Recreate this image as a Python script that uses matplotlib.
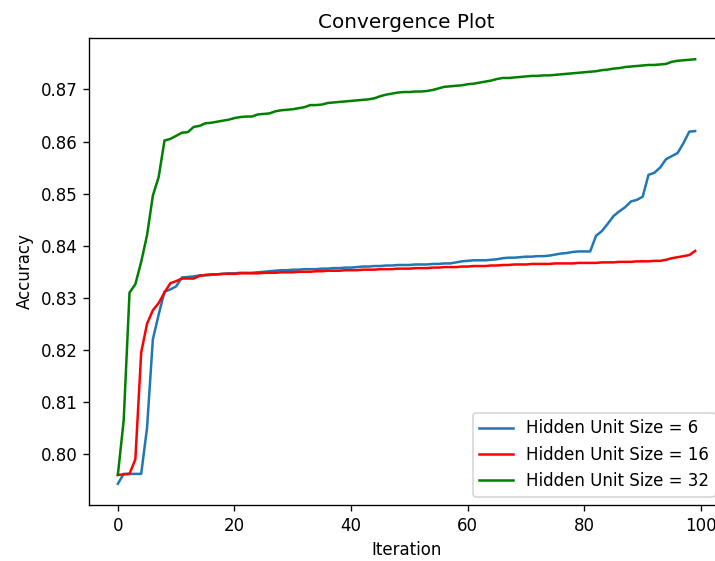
import matplotlib
matplotlib.use('Agg')
import matplotlib.pyplot as plt
import numpy as np

# accuracy per iteration
acc_6 = [0.7943, 0.7962, 0.7962, 0.7962, 0.7962, 0.8050, 0.8220, 0.8268, 0.8312, 0.8316,
         0.8322, 0.8339, 0.8340, 0.8341, 0.8343, 0.8343, 0.8344, 0.8345, 0.8346, 0.8347,
         0.8347, 0.8348, 0.8348, 0.8348, 0.8349, 0.8350, 0.8351, 0.8352, 0.8353, 0.8353,
         0.8354, 0.8354, 0.8355, 0.8355, 0.8355, 0.8356, 0.8356, 0.8357, 0.8357, 0.8358,
         0.8358, 0.8359, 0.8360, 0.8360, 0.8361, 0.8361, 0.8362, 0.8362, 0.8363, 0.8363,
         0.8363, 0.8364, 0.8364, 0.8364, 0.8365, 0.8365, 0.8366, 0.8366, 0.8368, 0.8370,
         0.8371, 0.8372, 0.8372, 0.8372, 0.8373, 0.8374, 0.8376, 0.8377, 0.8377, 0.8378,
         0.8379, 0.8379, 0.8380, 0.8380, 0.8381, 0.8383, 0.8385, 0.8386, 0.8388, 0.8389,
         0.8389, 0.8389, 0.8419, 0.8428, 0.8442, 0.8457, 0.8466, 0.8474, 0.8485, 0.8488,
         0.8494, 0.8536, 0.8540, 0.8550, 0.8566, 0.8572, 0.8578, 0.8597, 0.8619, 0.8620]

acc_16 = [0.7960, 0.7961, 0.7962, 0.7990, 0.8195, 0.8250, 0.8276, 0.8290, 0.8310, 0.8328,
          0.8332, 0.8337, 0.8337, 0.8337, 0.8342, 0.8344, 0.8345, 0.8345, 0.8346, 0.8346,
          0.8346, 0.8347, 0.8347, 0.8347, 0.8347, 0.8348, 0.8348, 0.8348, 0.8349, 0.8349,
          0.8349, 0.8350, 0.8350, 0.8350, 0.8351, 0.8351, 0.8352, 0.8352, 0.8352, 0.8353,
          0.8353, 0.8353, 0.8354, 0.8354, 0.8354, 0.8355, 0.8355, 0.8355, 0.8356, 0.8356,
          0.8356, 0.8357, 0.8357, 0.8357, 0.8358, 0.8358, 0.8359, 0.8359, 0.8359, 0.8360,
          0.8360, 0.8361, 0.8361, 0.8361, 0.8362, 0.8362, 0.8363, 0.8363, 0.8364, 0.8364,
          0.8364, 0.8365, 0.8365, 0.8365, 0.8365, 0.8366, 0.8366, 0.8366, 0.8366, 0.8367,
          0.8367, 0.8367, 0.8367, 0.8368, 0.8368, 0.8368, 0.8369, 0.8369, 0.8369, 0.8370,
          0.8370, 0.8370, 0.8371, 0.8371, 0.8373, 0.8376, 0.8378, 0.8380, 0.8382, 0.8390]

acc_32 = [0.7960, 0.8065, 0.8310, 0.8326, 0.8369, 0.8420, 0.8496, 0.8532, 0.8602, 0.8605,
          0.8611, 0.8617, 0.8618, 0.8628, 0.8630, 0.8635, 0.8636, 0.8638, 0.8640, 0.8642,
          0.8645, 0.8647, 0.8648, 0.8648, 0.8652, 0.8653, 0.8654, 0.8658, 0.8660, 0.8661,
          0.8662, 0.8664, 0.8666, 0.8670, 0.8670, 0.8671, 0.8674, 0.8675, 0.8676, 0.8677,
          0.8678, 0.8679, 0.8680, 0.8681, 0.8683, 0.8687, 0.8690, 0.8692, 0.8694, 0.8695,
          0.8695, 0.8696, 0.8696, 0.8697, 0.8699, 0.8702, 0.8705, 0.8706, 0.8707, 0.8708,
          0.8710, 0.8711, 0.8713, 0.8715, 0.8717, 0.8720, 0.8722, 0.8722, 0.8723, 0.8724,
          0.8725, 0.8726, 0.8726, 0.8727, 0.8727, 0.8728, 0.8729, 0.8730, 0.8731, 0.8732,
          0.8733, 0.8734, 0.8735, 0.8737, 0.8738, 0.8740, 0.8741, 0.8743, 0.8744, 0.8745,
          0.8746, 0.8747, 0.8747, 0.8748, 0.8749, 0.8753, 0.8755, 0.8756, 0.8757, 0.8758]

iterations = np.arange(len(acc_6))

DPI = 120
fig = plt.figure(figsize=(715 / DPI, 561 / DPI), dpi=DPI)
# the original image is cropped on the right, so the axes run past the edge
ax = fig.add_axes([89 / 715, 56 / 561, 635 / 715, 467 / 561])

ax.plot(iterations, acc_6, label='Hidden Unit Size = 6')
ax.plot(iterations, acc_16, color='red', label='Hidden Unit Size = 16')
ax.plot(iterations, acc_32, color='green', label='Hidden Unit Size = 32')

ax.set_title('Convergence Plot')
ax.set_xlabel('Iteration')
ax.set_ylabel('Accuracy')
ax.legend(loc='lower right')

fig.savefig('out.png', dpi=DPI)
